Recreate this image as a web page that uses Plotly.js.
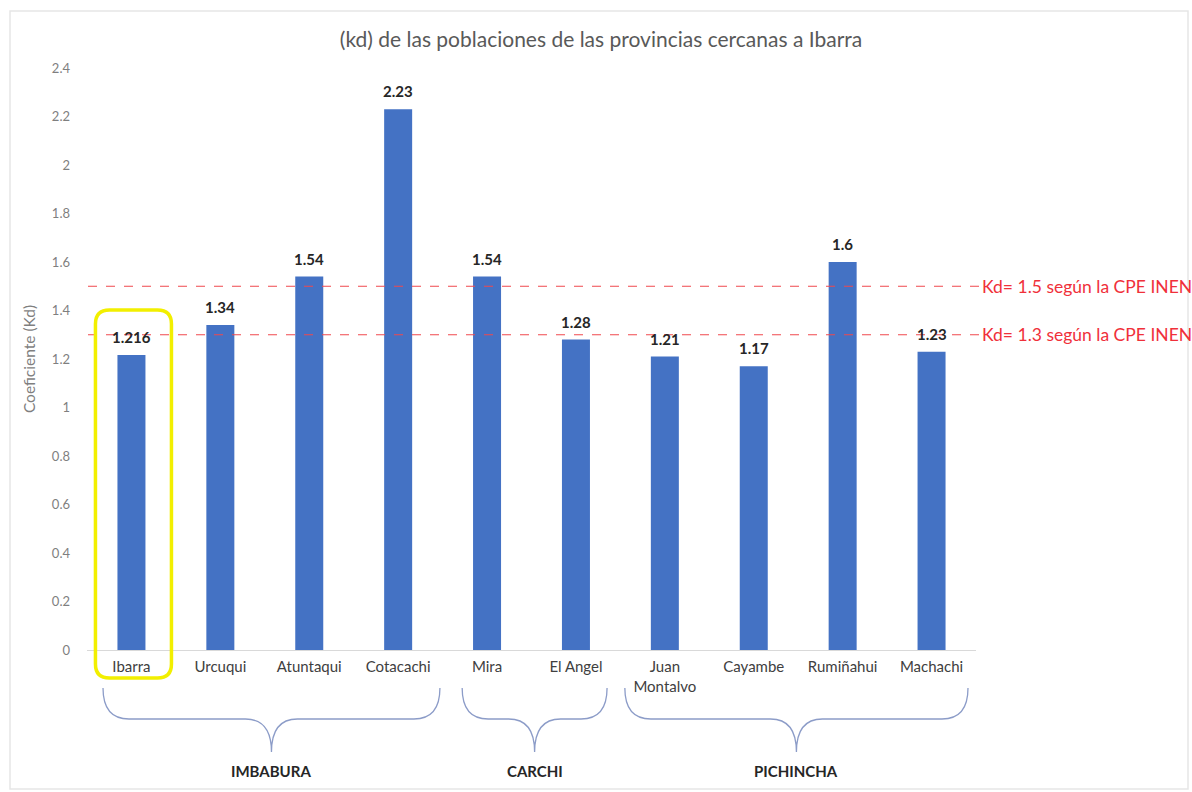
<!DOCTYPE html>
<html>
<head>
<meta charset="utf-8">
<script src="https://cdn.plot.ly/plotly-3.0.1.min.js"></script>
<style>
  html, body { margin: 0; padding: 0; background: #ffffff; }
  #chart { width: 1192px; height: 792px; }
</style>
</head>
<body>
<div id="chart"></div>
<script>
// Localidades y su coeficiente kd
const localidades = ['Ibarra', 'Urcuqui', 'Atuntaqui', 'Cotacachi', 'Mira', 'El Angel',
                     'Juan<br>Montalvo', 'Cayambe', 'Rumiñahui', 'Machachi'];
const coeficientes = [1.216, 1.34, 1.54, 2.23, 1.54, 1.28, 1.21, 1.17, 1.6, 1.23];
const etiquetas = ['1.216', '1.34', '1.54', '2.23', '1.54', '1.28', '1.21', '1.17', '1.6', '1.23'];

// Provincias: índice de la primera y última localidad
const provincias = ['IMBABURA', 'CARCHI', 'PICHINCHA'];
const provinciaInicio = [0, 4, 6];
const provinciaFin = [3, 5, 9];

// Valores de referencia de la norma
const referencias = [1.5, 1.3];
const referenciaTextos = ['Kd= 1.5 según la CPE INEN', 'Kd= 1.3 según la CPE INEN'];

const yTicks = [0, 0.2, 0.4, 0.6, 0.8, 1, 1.2, 1.4, 1.6, 1.8, 2, 2.2, 2.4];

const FONT = 'Lato, "Open Sans", sans-serif';

// Plot area geometry (pixels)
const W = 1192, H = 792;
const M = { l: 87, r: 216, t: 68, b: 142 };
const PW = W - M.l - M.r, PH = H - M.t - M.b;
const N = localidades.length;
const px = x => (x - M.l) / PW;            // pixel x -> paper
const py = y => (M.t + PH - y) / PH;       // pixel y -> paper
const centro = i => M.l + (i + 0.5) * PW / N;
const paso = PW / N;

const shapes = [];
const annotations = [];

// Light frame around the whole chart
shapes.push({
  type: 'rect', xref: 'paper', yref: 'paper',
  x0: px(10), x1: px(1188), y0: py(789), y1: py(11),
  line: { color: '#e6e6e6', width: 1.5 }, layer: 'below'
});

// Value labels above each bar
coeficientes.forEach((v, i) => {
  annotations.push({
    xref: 'x', yref: 'y', x: localidades[i], y: v,
    xanchor: 'center', yanchor: 'bottom', yshift: 7, showarrow: false,
    text: '<b>' + etiquetas[i] + '</b>',
    font: { family: FONT, size: 15, color: '#262626' }
  });
});

// Reference lines with their labels
referencias.forEach((v, k) => {
  shapes.push({
    type: 'line', xref: 'paper', yref: 'y',
    x0: px(88), x1: px(979), y0: v, y1: v,
    line: { color: '#f0484e', width: 1, dash: 'dash' }
  });
  annotations.push({
    xref: 'paper', yref: 'y', x: px(980), y: v,
    xanchor: 'left', yanchor: 'middle', showarrow: false,
    text: referenciaTextos[k],
    font: { family: FONT, size: 17.5, color: '#f0303a' }
  });
});

// Highlight box around Ibarra
(function () {
  const i = localidades.indexOf('Ibarra');
  const x0 = px(centro(i) - 36), x1 = px(centro(i) + 40);
  const y0 = py(678), y1 = py(310);
  const rx = 14 / PW, ry = 14 / PH;
  const path = `M ${x0 + rx},${y1} L ${x1 - rx},${y1} Q ${x1},${y1} ${x1},${y1 - ry} ` +
               `L ${x1},${y0 + ry} Q ${x1},${y0} ${x1 - rx},${y0} ` +
               `L ${x0 + rx},${y0} Q ${x0},${y0} ${x0},${y0 + ry} ` +
               `L ${x0},${y1 - ry} Q ${x0},${y1} ${x0 + rx},${y1} Z`;
  shapes.push({
    type: 'path', xref: 'paper', yref: 'paper', path: path,
    line: { color: '#f2ef00', width: 3.5 }
  });
})();

// Curly braces grouping localities by province
const bracePad = [[0.32, 0.47], [0.28, 0.35], [0.45, 0.41]];
provincias.forEach((nombre, g) => {
  const L = centro(provinciaInicio[g]) - bracePad[g][0] * paso;
  const R = centro(provinciaFin[g]) + bracePad[g][1] * paso;
  const C = (L + R) / 2;
  const yTop = 688, yMid = 719, yTip = 752, r = 26;
  const P = (x, y) => `${px(x)},${py(y)}`;
  const path = `M ${P(L, yTop)} Q ${P(L, yMid)} ${P(L + r, yMid)} ` +
               `L ${P(C - r, yMid)} Q ${P(C, yMid)} ${P(C, yTip)} ` +
               `Q ${P(C, yMid)} ${P(C + r, yMid)} ` +
               `L ${P(R - r, yMid)} Q ${P(R, yMid)} ${P(R, yTop)}`;
  shapes.push({
    type: 'path', xref: 'paper', yref: 'paper', path: path,
    line: { color: '#8c9cc8', width: 1.3 }
  });
  annotations.push({
    xref: 'paper', yref: 'paper', x: px(C), y: py(771),
    xanchor: 'center', yanchor: 'middle', showarrow: false,
    text: '<b>' + nombre + '</b>',
    font: { family: FONT, size: 15, color: '#262626' }
  });
});

const trace = {
  type: 'bar',
  x: localidades,
  y: coeficientes,
  marker: { color: '#4472c4' },
  hoverinfo: 'x+y'
};

const layout = {
  width: W, height: H,
  margin: M,
  paper_bgcolor: '#ffffff',
  plot_bgcolor: '#ffffff',
  showlegend: false,
  bargap: 0.685,
  font: { family: FONT, color: '#595959' },
  title: {
    text: '(kd) de las poblaciones de las provincias cercanas a Ibarra',
    font: { family: FONT, size: 21, color: '#595959' },
    x: 601 / W, xref: 'container', xanchor: 'center',
    y: 1 - 40 / H, yref: 'container', yanchor: 'middle'
  },
  xaxis: {
    type: 'category',
    range: [-0.5, N - 0.5],
    showline: true, linecolor: '#d9d9d9', linewidth: 1,
    ticks: '', showgrid: false, zeroline: false,
    tickfont: { family: FONT, size: 15, color: '#404040' },
    ticklabelstandoff: 3,
    fixedrange: true
  },
  yaxis: {
    range: [0, 2.4],
    tickvals: yTicks,
    ticktext: yTicks.map(String),
    showgrid: false, zeroline: false, showline: false, ticks: '',
    tickfont: { family: FONT, size: 13, color: '#7f7f7f' },
    ticklabelstandoff: 16,
    title: {
      text: 'Coeficiente (Kd)',
      font: { family: FONT, size: 15.5, color: '#7f7f7f' },
      standoff: 12
    },
    fixedrange: true
  },
  shapes: shapes,
  annotations: annotations
};

Plotly.newPlot('chart', [trace], layout, { displayModeBar: false, staticPlot: true });
</script>
</body>
</html>
